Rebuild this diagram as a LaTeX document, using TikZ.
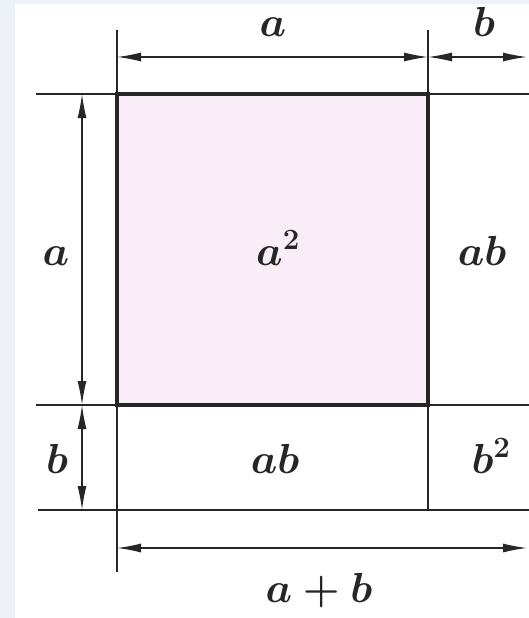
\RequirePackage{fix-cm}
\documentclass[tikz,border=0pt]{standalone}
\usepackage{xcolor}
\usepackage{tikz}
\usetikzlibrary{arrows.meta, positioning, calc}
\definecolor{cBack}{HTML}{EDF2F9}
\definecolor{cSq}{HTML}{F9EEF7}
\definecolor{cInk}{HTML}{262626}
\tikzset{
  guide/.style={draw=cInk, line width=1.4pt},
  rim/.style={draw=cInk, line width=3.2pt, fill=cSq},
  dim/.style={{Latex[length=24pt,width=9pt]}-{Latex[length=24pt,width=9pt]}, draw=cInk, line width=1.4pt},
  lbl/.style={font=\fontsize{42}{46}\selectfont\boldmath, text=cInk, inner sep=0pt, anchor=base},
}

\begin{document}
\begin{tikzpicture}[x=1pt, y=-1pt]
% page and margins
\fill[cBack] (0,0) rectangle (529,618);
\fill[white] (15,4) rectangle (529,618);
\useasboundingbox (0,0) rectangle (529,618);
% the a^2 square
\draw[rim] (117,94) rectangle (428,405);
% guide lines
\coordinate (hA1) at (36,94);   \coordinate (hA2) at (529,94);
\coordinate (hB1) at (36,405);  \coordinate (hB2) at (529,405);
\coordinate (hC1) at (38,510);  \coordinate (hC2) at (529,510);
\coordinate (vA1) at (117,30);  \coordinate (vA2) at (117,572);
\coordinate (vB1) at (428,30);  \coordinate (vB2) at (428,510);
\draw[guide] (hA1) -- (hA2); \draw[guide] (hB1) -- (hB2); \draw[guide] (hC1) -- (hC2);
\draw[guide] (vA1) -- (vA2); \draw[guide] (vB1) -- (vB2);
% dimension arrows
\coordinate (topL) at (117,57); \coordinate (topM) at (428,57); \coordinate (topR) at (527,57);
\coordinate (lftT) at (82,94);  \coordinate (lftM) at (82,405); \coordinate (lftB) at (82,510);
\coordinate (botL) at (117,548); \coordinate (botR) at (527,548);
\draw[dim] (topL) -- (topM); \draw[dim] (topM) -- (topR);
\draw[dim] (lftT) -- (lftM); \draw[dim] (lftM) -- (lftB);
\draw[dim] (botL) -- (botR);
% labels
\node[lbl] (topa) at (273,37) {$a$};
\node[lbl] (topb) at (484,37) {$b$};
\node[lbl] (lfta) at (56,265) {$a$};
\node[lbl] (lftb) at (57,473) {$b$};
\node[lbl] (sqa) at (278,265) {$a^2$};
\node[lbl] (rab) at (482,265) {$ab$};
\node[lbl] (bab) at (275,473) {$ab$};
\node[lbl] (sqb) at (491,473) {$b^2$};
\node[lbl] (sum) at (319,602) {$a+b$};
\end{tikzpicture}
\end{document}
